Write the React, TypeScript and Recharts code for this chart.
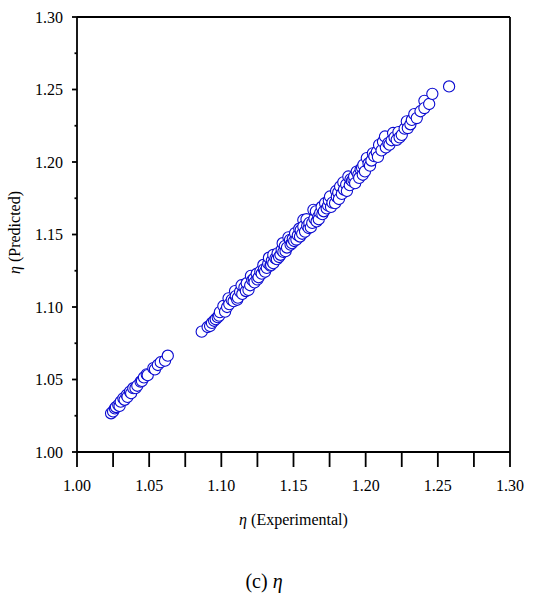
import React from "react";
import { ScatterChart, Scatter, XAxis, YAxis, ReferenceLine, Label } from "recharts";

// Experimental vs predicted eta, two clusters
const lowerExp = [
  1.0236, 1.025, 1.0263, 1.027, 1.0286, 1.0295, 1.0303, 1.0321, 1.033, 1.0344, 1.035, 1.0367, 1.0375, 1.039,
  1.0405, 1.0418, 1.0441, 1.045, 1.0464, 1.0483, 1.049, 1.0529, 1.054, 1.056, 1.058, 1.061, 1.0629,
];
const lowerPred = [
  1.0267, 1.028, 1.0301, 1.031, 1.0324, 1.0318, 1.0347, 1.037, 1.036, 1.0393, 1.038, 1.0416, 1.0405, 1.044,
  1.044, 1.0457, 1.0485, 1.049, 1.0515, 1.0536, 1.053, 1.0578, 1.057, 1.06, 1.0619, 1.063, 1.0664,
];

const upperExp = [
  1.0864, 1.0905, 1.0922, 1.0935, 1.095, 1.0961, 1.0975, 1.0985, 1.099, 1.1014, 1.1026, 1.104, 1.105, 1.1055,
  1.1072, 1.1085, 1.1095, 1.11, 1.111, 1.1115, 1.113, 1.114, 1.1145, 1.116, 1.117, 1.1176, 1.1188, 1.12,
  1.1205, 1.1215, 1.1225, 1.123, 1.1245, 1.125, 1.1258, 1.127, 1.128, 1.1291, 1.1295, 1.1303, 1.1315, 1.1325,
  1.133, 1.134, 1.1345, 1.135, 1.136, 1.136, 1.1375, 1.1385, 1.139, 1.14, 1.141, 1.1418, 1.1425, 1.143,
  1.144, 1.1445, 1.1455, 1.1465, 1.1476, 1.148, 1.149, 1.1495, 1.1505, 1.1511, 1.152, 1.153, 1.154, 1.1545,
  1.155, 1.156, 1.1568, 1.1568, 1.158, 1.159, 1.1595, 1.1605, 1.161, 1.162, 1.163, 1.1638, 1.1645, 1.1655,
  1.166, 1.1672, 1.1675, 1.1685, 1.1695, 1.17, 1.171, 1.1719, 1.173, 1.174, 1.1745, 1.1753, 1.176, 1.177,
  1.1788, 1.1795, 1.18, 1.181, 1.1815, 1.1823, 1.1835, 1.1845, 1.185, 1.1865, 1.187, 1.188, 1.189, 1.1895,
  1.1905, 1.1915, 1.192, 1.1927, 1.1938, 1.1949, 1.1955, 1.1965, 1.1975, 1.198, 1.1984, 1.1995, 1.2008, 1.202,
  1.203, 1.204, 1.205, 1.206, 1.2077, 1.2085, 1.2093, 1.211, 1.212, 1.2134, 1.214, 1.2157, 1.2165, 1.218,
  1.219, 1.22, 1.2215, 1.2227, 1.2235, 1.225, 1.227, 1.2285, 1.2292, 1.231, 1.232, 1.2337, 1.2354, 1.238,
  1.2407, 1.2407, 1.244, 1.2462, 1.2578,
];
const upperPred = [
  1.083, 1.0862, 1.0869, 1.089, 1.0905, 1.0916, 1.093, 1.094, 1.0965, 1.1007, 1.0968, 1.1, 1.106, 1.102,
  1.1049, 1.104, 1.111, 1.1075, 1.105, 1.1065, 1.1106, 1.115, 1.109, 1.1135, 1.111, 1.1164, 1.1118, 1.115,
  1.1215, 1.1185, 1.1195, 1.117, 1.1228, 1.119, 1.1205, 1.1245, 1.123, 1.129, 1.126, 1.1244, 1.127, 1.13,
  1.134, 1.1285, 1.129, 1.132, 1.1359, 1.1302, 1.1335, 1.133, 1.137, 1.1345, 1.136, 1.1394, 1.144, 1.138,
  1.142, 1.1385, 1.141, 1.148, 1.1463, 1.143, 1.144, 1.147, 1.1455, 1.1509, 1.1465, 1.1495, 1.154, 1.1486,
  1.153, 1.1505, 1.16, 1.1555, 1.152, 1.1605, 1.156, 1.1545, 1.158, 1.155, 1.158, 1.167, 1.161, 1.166,
  1.159, 1.1624, 1.1605, 1.165, 1.169, 1.164, 1.166, 1.1716, 1.168, 1.17, 1.1735, 1.1762, 1.169, 1.172,
  1.1716, 1.18, 1.176, 1.179, 1.1745, 1.1831, 1.178, 1.186, 1.181, 1.1845, 1.18, 1.19, 1.184, 1.188,
  1.187, 1.188, 1.19, 1.1854, 1.1934, 1.1911, 1.189, 1.195, 1.196, 1.1912, 1.198, 1.1935, 1.2027, 1.199,
  1.1975, 1.201, 1.206, 1.204, 1.2068, 1.2035, 1.2118, 1.208, 1.214, 1.2176, 1.21, 1.213, 1.212, 1.215,
  1.22, 1.217, 1.2153, 1.2206, 1.217, 1.2187, 1.223, 1.228, 1.2234, 1.226, 1.229, 1.233, 1.2303, 1.235,
  1.2422, 1.2372, 1.24, 1.247, 1.2521,
];

const axisTicks = [1.0, 1.025, 1.05, 1.075, 1.1, 1.125, 1.15, 1.175, 1.2, 1.225, 1.25, 1.275, 1.3];

const lowerData = lowerExp.map((x, i) => ({ x, y: lowerPred[i] }));
const upperData = upperExp.map((x, i) => ({ x, y: upperPred[i] }));

const FONT = "'Liberation Serif', 'Times New Roman', serif";
const MARK = "#0a0ad0";
const INK = "#000";

const isMajor = (v: number) => Math.abs(v * 20 - Math.round(v * 20)) < 1e-6;

const OpenCircle = (props: any) => (
  <circle cx={props.cx} cy={props.cy} r={5.6} fill="#fff" stroke={MARK} strokeWidth={1.1} />
);

const YTick = ({ x, y, payload }: any) => {
  const v = payload.value;
  const major = isMajor(v);
  return (
    <g>
      <line x1={x - (major ? 5 : 2.5)} x2={x} y1={y} y2={y} stroke={INK} strokeWidth={1.8} />
      {major && (
        <text x={x - 14} y={y + 5.5} textAnchor="end" fontSize={16} fontFamily={FONT} fill={INK}>
          {v.toFixed(2)}
        </text>
      )}
    </g>
  );
};

const XTick = ({ x, y, payload }: any) => {
  const v = payload.value;
  return (
    <g>
      <line x1={x} x2={x} y1={y} y2={y + 15} stroke={INK} strokeWidth={1.8} />
      {isMajor(v) && (
        <text x={x} y={y + 38.5} textAnchor="middle" fontSize={16} fontFamily={FONT} fill={INK}>
          {v.toFixed(2)}
        </text>
      )}
    </g>
  );
};

const XTitle = ({ viewBox }: any) => (
  <text
    x={viewBox.x + viewBox.width / 2}
    y={viewBox.y + 73}
    textAnchor="middle"
    fontSize={16}
    fontFamily={FONT}
    fill={INK}
  >
    <tspan fontStyle="italic">η</tspan>
    <tspan> (Experimental)</tspan>
  </text>
);

const YTitle = ({ viewBox }: any) => {
  const cx = 19.5;
  const cy = viewBox.y + viewBox.height / 2 - 2;
  return (
    <text
      x={cx}
      y={cy}
      textAnchor="middle"
      fontSize={16}
      fontFamily={FONT}
      fill={INK}
      transform={`rotate(-90, ${cx}, ${cy})`}
    >
      <tspan fontStyle="italic">η</tspan>
      <tspan> (Predicted)</tspan>
    </text>
  );
};

export default function App() {
  return (
    <div style={{ position: "absolute", left: 0, top: 0, width: 539, height: 595, background: "#fff" }}>
      <ScatterChart width={539} height={595} margin={{ top: 17, right: 29, bottom: 83, left: 17 }}>
        <XAxis
          type="number"
          dataKey="x"
          domain={[1.0, 1.3]}
          ticks={axisTicks}
          interval={0}
          allowDataOverflow
          height={60}
          tickSize={0}
          tickMargin={0}
          tickLine={false}
          tick={<XTick />}
          axisLine={{ stroke: INK, strokeWidth: 1.8 }}
        >
          <Label content={<XTitle />} />
        </XAxis>
        <YAxis
          type="number"
          dataKey="y"
          domain={[1.0, 1.3]}
          ticks={axisTicks}
          interval={0}
          allowDataOverflow
          width={60}
          tickSize={0}
          tickMargin={0}
          tickLine={false}
          tick={<YTick />}
          axisLine={{ stroke: INK, strokeWidth: 1.8 }}
        >
          <Label content={<YTitle />} />
        </YAxis>
        <ReferenceLine y={1.3} stroke={INK} strokeWidth={1.8} />
        <ReferenceLine x={1.3} stroke={INK} strokeWidth={1.8} />
        <Scatter data={lowerData} shape={OpenCircle} isAnimationActive={false} />
        <Scatter data={upperData} shape={OpenCircle} isAnimationActive={false} />
      </ScatterChart>
      <div
        style={{
          position: "absolute",
          left: 0,
          top: 568,
          width: 528,
          textAlign: "center",
          fontFamily: FONT,
          fontSize: 20,
          lineHeight: "26px",
          color: INK,
        }}
      >
        (c) <span style={{ fontStyle: "italic" }}>η</span>
      </div>
    </div>
  );
}
